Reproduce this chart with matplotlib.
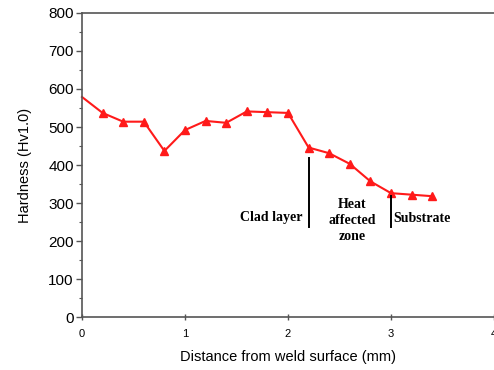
import numpy as np
import matplotlib
matplotlib.use("Agg")
import matplotlib.pyplot as plt
from matplotlib.ticker import MultipleLocator

# data
distance = [0.0, 0.2, 0.4, 0.6, 0.8, 1.0, 1.2, 1.4, 1.6, 1.8, 2.0,
            2.2, 2.4, 2.6, 2.8, 3.0, 3.2, 3.4]
hardness = [579, 537, 514, 514, 437, 492, 516, 511, 541, 539, 537,
            446, 431, 403, 357, 326, 322, 318]

boundaries = [2.2, 3.0]
boundary_top = [418, 318]
boundary_bottom = 237

zone_labels = ["Clad layer", "Heat\naffected\nzone", "Substrate"]

plt.rcParams['font.family'] = ['Liberation Sans', 'DejaVu Sans']

fig = plt.figure(figsize=(4.94, 3.70), dpi=100)
ax = fig.add_axes([0.166, 0.143, 0.834, 0.822])

ax.plot(distance, hardness, color="#ff1a1a", lw=1.5, marker="^", ms=6,
        markevery=list(range(1, len(distance))), clip_on=False)

# zone separators
for xb, yt in zip(boundaries, boundary_top):
    ax.plot([xb, xb], [boundary_bottom, yt], color="k", lw=1.4)

serif = dict(family=['Liberation Serif', 'DejaVu Serif'], fontweight="bold", fontsize=10)
ax.text(2.14, 262, zone_labels[0], ha="right", va="center", **serif)
ax.text(2.62, 253, zone_labels[1], ha="center", va="center", linespacing=1.3, **serif)
ax.text(3.02, 259, zone_labels[2], ha="left", va="center", **serif)

ax.set_xlim(0, 4)
ax.set_ylim(0, 800)
ax.set_xticks([0, 1, 2, 3, 4])
ax.yaxis.set_major_locator(MultipleLocator(100))
ax.yaxis.set_minor_locator(MultipleLocator(50))

for side in ["left", "bottom", "top"]:
    ax.spines[side].set_color("#555555")
    ax.spines[side].set_linewidth(1.2)
ax.spines["right"].set_visible(False)

ax.tick_params(axis="y", which="major", direction="out", length=4, width=1, color="#555555", labelsize=11, pad=2)
ax.tick_params(axis="y", which="minor", direction="out", length=2.5, width=0.8, color="#555555")
ax.tick_params(axis="x", which="major", direction="inout", length=5, width=1, color="#555555", labelsize=8, pad=6)

ax.set_xlabel("Distance from weld surface (mm)", fontsize=10.5, labelpad=8)
ax.set_ylabel("Hardness (Hv1.0)", fontsize=10.5, labelpad=12)

fig.savefig("out.png", dpi=100)
